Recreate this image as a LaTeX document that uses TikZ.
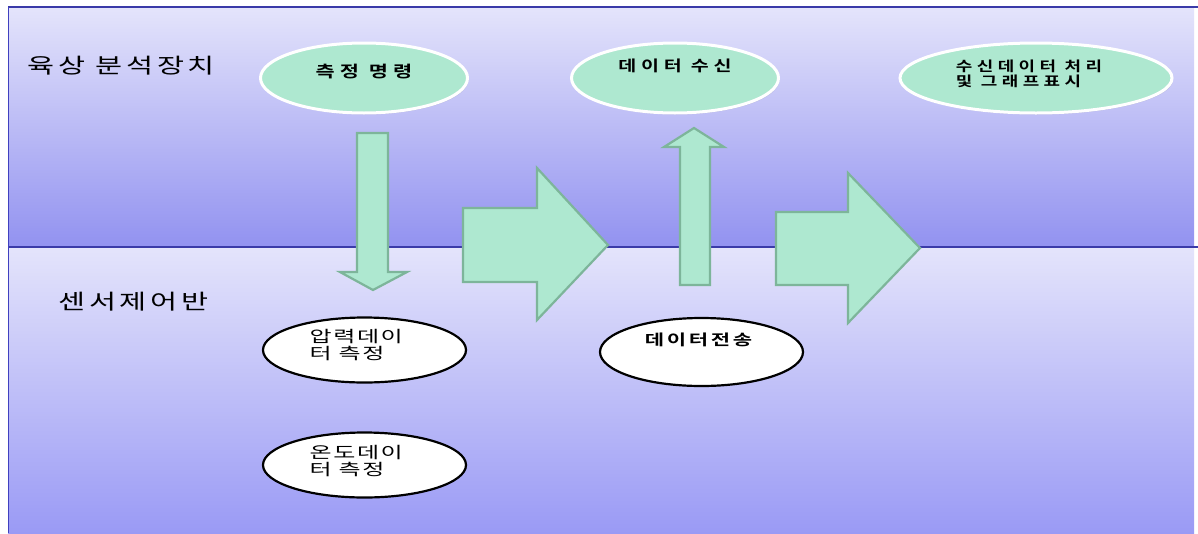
\documentclass[tikz,border=0pt]{standalone}
\usepackage{fontspec}
\newfontfamily\krlab{Noto Sans CJK KR}[FakeStretch=1.4, LetterSpace=18]
\newfontfamily\krgreen{Noto Sans CJK KR Bold}[FakeStretch=1.3, LetterSpace=32]
\newfontfamily\krwhite{Noto Sans CJK KR}[FakeStretch=1.5, LetterSpace=10]
\newfontfamily\krsend{Noto Sans CJK KR Bold}[FakeStretch=1.4, LetterSpace=18]
\usetikzlibrary{shapes.geometric,shadows}
\definecolor{panellight}{HTML}{E4E4FB}
\definecolor{paneldark}{HTML}{9292F0}
\definecolor{paneldarkb}{HTML}{9A9AF5}
\definecolor{lineblue}{HTML}{3A3AA8}
\definecolor{mint}{HTML}{AEE8D0}
\definecolor{mintedge}{HTML}{7DB59A}
\tikzset{
  greenell/.style={ellipse, fill=mint, draw=white, line width=3pt, minimum height=70pt, inner sep=0pt, drop shadow={opacity=0.25, shadow xshift=1pt, shadow yshift=-1.5pt}},
  whiteell/.style={ellipse, fill=white, draw=black, line width=2.2pt, minimum width=203pt, minimum height=65pt, inner sep=0pt},
  gtext/.style={font=\krgreen\fontsize{15}{16}\selectfont, inner sep=0pt, align=left},
  wtext/.style={font=\krwhite\fontsize{16}{17}\selectfont, inner sep=0pt, align=left},
  stext/.style={font=\krsend\fontsize{15}{16}\selectfont, inner sep=0pt},
  bigarrow/.style={fill=mint, draw=mintedge, line width=2.2pt, line join=miter},
  lanelabel/.style={font=\krlab\fontsize{21}{24}\selectfont, anchor=west, inner sep=0pt},
}
\begin{document}
\begin{tikzpicture}[x=1pt,y=-1pt]
\useasboundingbox (0,0) rectangle (1198,533);
\fill[white] (0,0) rectangle (1198,533);
% panels
\shade[top color=panellight, bottom color=paneldark] (8,7) rectangle (1194,247);
\shade[top color=panellight, bottom color=paneldarkb] (8,247) rectangle (1194,533);
\draw[lineblue, line width=1.4pt] (8,7) -- (1198,7);
\draw[lineblue, line width=1.4pt] (8,247) -- (1198,247);
\draw[gray!50!blue, line width=0.8pt] (8,7) -- (8,533);
% lane labels
\node[lanelabel] (lab1) at (27,66) {육상 분석장치};
\node[lanelabel] (lab2) at (58,302) {센서제어반};
% green ellipses
\node[greenell, minimum width=207pt] (cmd) at (364,78) {};
\node[gtext, font=\krgreen\fontsize{16}{17}\selectfont] (cmdt) at ([yshift=6pt]cmd.center) {측정 명령};
\node[greenell, minimum width=207pt] (recv) at (675,78) {};
\node[gtext] (recvt) at ([yshift=12pt]recv.center) {데이터 수신};
\node[greenell, minimum width=272pt] (proc) at (1036,78) {};
\node[gtext, font=\krgreen\fontsize{13.8}{15}\selectfont] (proct) at ([xshift=-7pt,yshift=4pt]proc.center) {수신데이터 처리\\및 그래프표시};
% white ellipses
\node[whiteell] (pres) at (364.5,350) {};
\node[wtext, anchor=west] (prest) at ([xshift=-55pt,yshift=5pt]pres.center) {압력데이\\터 측정};
\node[whiteell] (temp) at (364.5,465) {};
\node[wtext, anchor=west] (tempt) at ([xshift=-55pt,yshift=4pt]temp.center) {온도데이\\터 측정};
\node[whiteell, minimum height=68pt] (send) at (701.5,352) {};
\node[stext] (sendt) at ([xshift=-3pt,yshift=12pt]send.center) {데이터전송};
% down arrow (command -> pressure)
\draw[bigarrow] (357,133) -- (388,133) -- (388,272) -- (407,272) -- (373,290) -- (340,272) -- (357,272) -- cycle;
% up arrow (send -> receive)
\draw[bigarrow] (680,285) -- (710,285) -- (710,147) -- (724,147) -- (694,128) -- (664,147) -- (680,147) -- cycle;
% big right arrows
\draw[bigarrow] (463,208) -- (537,208) -- (537,168) -- (608,245) -- (537,320) -- (537,282) -- (463,282) -- cycle;
\draw[bigarrow] (776,212) -- (848,212) -- (848,173) -- (920,248) -- (848,323) -- (848,285) -- (776,285) -- cycle;
\end{tikzpicture}
\end{document}
